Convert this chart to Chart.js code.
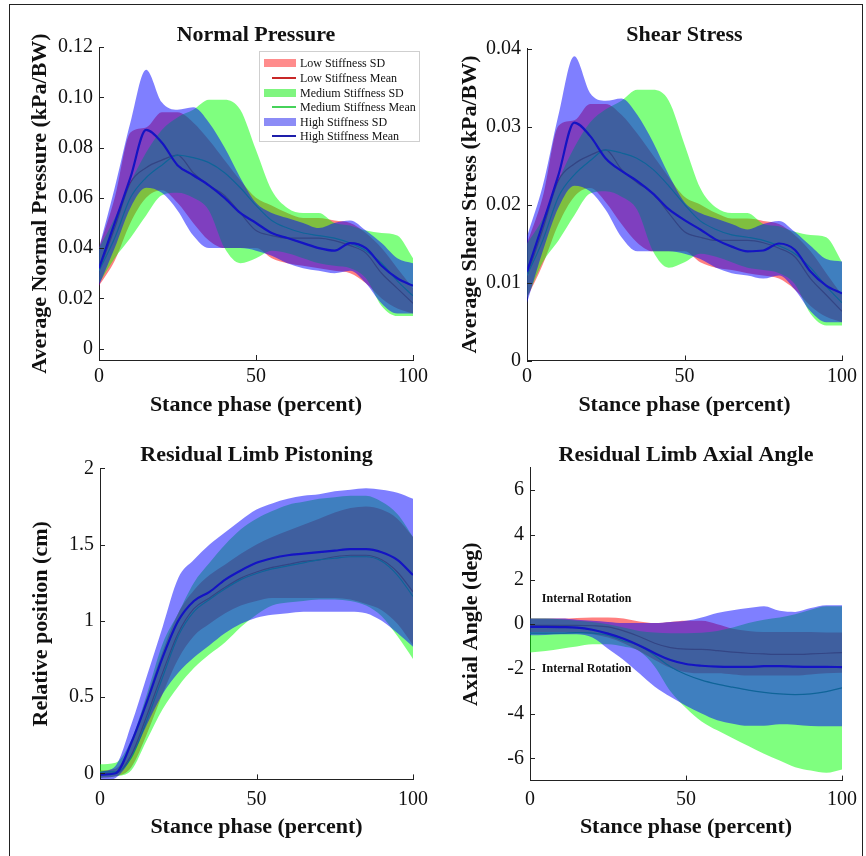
<!DOCTYPE html>
<html lang="en">
<head>
<meta charset="utf-8">
<title>Stiffness comparison</title>
<script src="https://cdn.jsdelivr.net/npm/chart.js@4.4.1/dist/chart.umd.min.js"></script>
<style>
  html, body { margin: 0; padding: 0; background: #fff; overflow: hidden; }
  body { width: 866px; height: 856px; position: relative; }
  .cadre { position: absolute; left: 9px; top: 4px; width: 854px; height: 870px; border: 1px solid #222; box-sizing: border-box; }
  canvas { position: absolute; }
  #legende { position: absolute; left: 259px; top: 51px; width: 161px; height: 91px; box-sizing: border-box;
    background: #fff; border: 1px solid #cfcfcf; font: 12px 'Liberation Serif', 'Times New Roman', serif; color: #111; z-index: 5; }
  .entree { position: absolute; left: 0; height: 14px; line-height: 14px; white-space: nowrap; }
  .entree span { position: absolute; left: 40px; top: 0; }
  .carre { position: absolute; left: 4px; top: 3px; width: 32px; height: 8px; }
  .trait { position: absolute; left: 12px; top: 6px; width: 24px; height: 2px; }
</style>
</head>
<body>
<div class="cadre"></div>
<canvas id="pression"></canvas>
<canvas id="cisaillement"></canvas>
<canvas id="pistonnement"></canvas>
<canvas id="angle"></canvas>

<div id="legende">
  <div class="entree" style="top:4px"><div class="carre" style="background:rgba(255,0,0,0.45)"></div><span>Low Stiffness SD</span></div>
  <div class="entree" style="top:19px"><div class="trait" style="background:rgb(200,40,40)"></div><span>Low Stiffness Mean</span></div>
  <div class="entree" style="top:34px"><div class="carre" style="background:rgba(0,235,0,0.5)"></div><span>Medium Stiffness SD</span></div>
  <div class="entree" style="top:48px"><div class="trait" style="background:rgb(70,210,90)"></div><span>Medium Stiffness Mean</span></div>
  <div class="entree" style="top:63px"><div class="carre" style="background:rgba(0,0,235,0.45)"></div><span>High Stiffness SD</span></div>
  <div class="entree" style="top:77px"><div class="trait" style="background:rgb(30,30,170)"></div><span>High Stiffness Mean</span></div>
</div>

<script>
// abscisse commune (% de la phase d'appui)
const stance = [0, 5, 10, 15, 20, 25, 30, 35, 40, 45, 50, 55, 60, 65, 70, 75, 80, 85, 90, 95, 100];
const stanceTicks = [0, 50, 100];

// pression normale
const pressureTicks = [0, 0.02, 0.04, 0.06, 0.08, 0.10, 0.12];
const pressureLabels = ['0', '0.02', '0.04', '0.06', '0.08', '0.10', '0.12'];
const lowMeanPressure = [0.031, 0.048, 0.066, 0.072, 0.075, 0.077, 0.070, 0.065, 0.061, 0.054, 0.047, 0.045, 0.044, 0.044, 0.044, 0.043, 0.041, 0.038, 0.030, 0.024, 0.018];
const lowUpperPressure = [0.040, 0.060, 0.086, 0.088, 0.094, 0.094, 0.090, 0.083, 0.075, 0.067, 0.060, 0.057, 0.054, 0.052, 0.052, 0.051, 0.050, 0.046, 0.040, 0.032, 0.024];
const lowLowerPressure = [0.025, 0.035, 0.050, 0.060, 0.063, 0.058, 0.050, 0.043, 0.040, 0.040, 0.040, 0.036, 0.034, 0.033, 0.032, 0.031, 0.030, 0.026, 0.020, 0.016, 0.014];
const medMeanPressure = [0.031, 0.044, 0.060, 0.068, 0.073, 0.077, 0.076, 0.074, 0.070, 0.064, 0.057, 0.051, 0.048, 0.046, 0.045, 0.044, 0.042, 0.039, 0.034, 0.027, 0.021];
const medUpperPressure = [0.040, 0.052, 0.066, 0.078, 0.087, 0.092, 0.095, 0.099, 0.099, 0.095, 0.079, 0.063, 0.056, 0.054, 0.054, 0.050, 0.049, 0.047, 0.046, 0.045, 0.036];
const medLowerPressure = [0.026, 0.036, 0.044, 0.053, 0.061, 0.062, 0.060, 0.055, 0.040, 0.034, 0.036, 0.039, 0.038, 0.036, 0.034, 0.033, 0.032, 0.028, 0.017, 0.013, 0.013];
const highMeanPressure = [0.032, 0.050, 0.068, 0.087, 0.082, 0.073, 0.069, 0.065, 0.060, 0.054, 0.050, 0.046, 0.044, 0.042, 0.040, 0.039, 0.042, 0.040, 0.033, 0.028, 0.025];
const highUpperPressure = [0.040, 0.064, 0.090, 0.111, 0.098, 0.095, 0.096, 0.090, 0.080, 0.068, 0.058, 0.054, 0.052, 0.050, 0.048, 0.050, 0.051, 0.047, 0.042, 0.036, 0.034];
const highLowerPressure = [0.025, 0.040, 0.056, 0.064, 0.062, 0.055, 0.045, 0.040, 0.040, 0.040, 0.039, 0.037, 0.034, 0.032, 0.031, 0.030, 0.031, 0.026, 0.018, 0.014, 0.014];

// contrainte de cisaillement
const shearTicks = [0, 0.01, 0.02, 0.03, 0.04];
const shearLabels = ['0', '0.01', '0.02', '0.03', '0.04'];
const lowMeanShear = [0.0109, 0.0168, 0.0231, 0.0252, 0.0263, 0.0270, 0.0245, 0.0228, 0.0214, 0.0189, 0.0165, 0.0158, 0.0154, 0.0154, 0.0154, 0.0151, 0.0144, 0.0133, 0.0105, 0.0084, 0.0063];
const lowUpperShear = [0.0150, 0.0210, 0.0301, 0.0308, 0.0329, 0.0329, 0.0315, 0.0291, 0.0263, 0.0235, 0.0210, 0.0200, 0.0189, 0.0182, 0.0182, 0.0179, 0.0175, 0.0161, 0.0140, 0.0112, 0.0084];
const lowLowerShear = [0.0080, 0.0123, 0.0175, 0.0210, 0.0221, 0.0203, 0.0175, 0.0151, 0.0140, 0.0140, 0.0140, 0.0126, 0.0119, 0.0116, 0.0112, 0.0109, 0.0105, 0.0091, 0.0070, 0.0056, 0.0049];
const medMeanShear = [0.0109, 0.0154, 0.0210, 0.0238, 0.0256, 0.0270, 0.0266, 0.0259, 0.0245, 0.0224, 0.0200, 0.0179, 0.0168, 0.0161, 0.0158, 0.0154, 0.0147, 0.0137, 0.0119, 0.0095, 0.0074];
const medUpperShear = [0.0150, 0.0182, 0.0231, 0.0273, 0.0305, 0.0322, 0.0333, 0.0347, 0.0347, 0.0333, 0.0277, 0.0221, 0.0196, 0.0189, 0.0189, 0.0175, 0.0172, 0.0165, 0.0161, 0.0158, 0.0126];
const medLowerShear = [0.0080, 0.0126, 0.0154, 0.0186, 0.0214, 0.0217, 0.0210, 0.0193, 0.0140, 0.0119, 0.0126, 0.0137, 0.0133, 0.0126, 0.0119, 0.0116, 0.0112, 0.0098, 0.0060, 0.0045, 0.0045];
const highMeanShear = [0.0114, 0.0175, 0.0238, 0.0305, 0.0288, 0.0259, 0.0243, 0.0230, 0.0214, 0.0194, 0.0180, 0.0168, 0.0155, 0.0146, 0.0140, 0.0141, 0.0150, 0.0142, 0.0114, 0.0096, 0.0086];
const highUpperShear = [0.0159, 0.0224, 0.0315, 0.0390, 0.0343, 0.0333, 0.0336, 0.0315, 0.0280, 0.0238, 0.0203, 0.0189, 0.0182, 0.0175, 0.0168, 0.0175, 0.0179, 0.0165, 0.0147, 0.0130, 0.0127];
const highLowerShear = [0.0074, 0.0140, 0.0196, 0.0224, 0.0217, 0.0193, 0.0158, 0.0140, 0.0140, 0.0140, 0.0137, 0.0130, 0.0119, 0.0112, 0.0109, 0.0105, 0.0109, 0.0091, 0.0063, 0.0049, 0.0049];

// pistonnement du moignon
const pistonTicks = [0, 0.5, 1, 1.5, 2];
const pistonLabels = ['0', '0.5', '1', '1.5', '2'];
const lowMeanPiston = [0.00, 0.00, 0.12, 0.38, 0.66, 0.92, 1.08, 1.15, 1.22, 1.28, 1.32, 1.35, 1.37, 1.39, 1.40, 1.42, 1.43, 1.43, 1.40, 1.32, 1.19];
const lowUpperPiston = [0.02, 0.03, 0.20, 0.50, 0.80, 1.05, 1.20, 1.30, 1.37, 1.44, 1.50, 1.55, 1.59, 1.63, 1.67, 1.71, 1.74, 1.75, 1.73, 1.67, 1.55];
const lowLowerPiston = [-0.03, -0.02, 0.04, 0.26, 0.52, 0.75, 0.90, 0.98, 1.05, 1.10, 1.13, 1.15, 1.15, 1.15, 1.15, 1.15, 1.14, 1.11, 1.07, 0.98, 0.84];
const medMeanPiston = [0.01, 0.01, 0.10, 0.35, 0.63, 0.90, 1.06, 1.14, 1.21, 1.27, 1.31, 1.34, 1.36, 1.38, 1.40, 1.41, 1.42, 1.42, 1.39, 1.30, 1.16];
const medUpperPiston = [0.06, 0.07, 0.22, 0.52, 0.85, 1.05, 1.25, 1.38, 1.50, 1.60, 1.67, 1.72, 1.76, 1.78, 1.80, 1.81, 1.82, 1.82, 1.78, 1.70, 1.55];
const medLowerPiston = [-0.03, -0.02, 0.02, 0.22, 0.42, 0.57, 0.69, 0.78, 0.86, 0.96, 1.04, 1.10, 1.12, 1.13, 1.14, 1.14, 1.13, 1.10, 1.03, 0.90, 0.75];
const highMeanPiston = [-0.01, 0.00, 0.20, 0.47, 0.76, 1.00, 1.13, 1.19, 1.27, 1.33, 1.38, 1.41, 1.43, 1.44, 1.45, 1.46, 1.47, 1.47, 1.45, 1.40, 1.30];
const highUpperPiston = [0.01, 0.05, 0.32, 0.64, 0.96, 1.28, 1.40, 1.50, 1.58, 1.66, 1.73, 1.77, 1.80, 1.82, 1.83, 1.85, 1.86, 1.87, 1.86, 1.84, 1.80];
const highLowerPiston = [-0.05, -0.03, 0.10, 0.32, 0.52, 0.66, 0.76, 0.84, 0.92, 0.98, 1.02, 1.04, 1.05, 1.06, 1.06, 1.06, 1.06, 1.05, 1.00, 0.92, 0.83];

// angle axial
const angleTicks = [-6, -4, -2, 0, 2, 4, 6];
const angleLabels = ['-6', '-4', '-2', '0', '2', '4', '6'];
const lowMeanAngle = [-0.05, -0.05, -0.05, -0.05, -0.07, -0.12, -0.30, -0.55, -0.85, -1.05, -1.12, -1.13, -1.18, -1.25, -1.30, -1.33, -1.35, -1.35, -1.33, -1.30, -1.27];
const lowUpperAngle = [0.25, 0.25, 0.25, 0.28, 0.30, 0.30, 0.25, 0.12, 0.05, 0.10, 0.15, 0.15, 0.00, -0.20, -0.30, -0.35, -0.35, -0.35, -0.35, -0.37, -0.37];
const lowLowerAngle = [-0.35, -0.35, -0.35, -0.38, -0.45, -0.60, -0.85, -1.20, -1.60, -1.95, -2.15, -2.20, -2.20, -2.25, -2.30, -2.30, -2.30, -2.30, -2.25, -2.20, -2.17];
const medMeanAngle = [-0.40, -0.40, -0.40, -0.38, -0.40, -0.50, -0.75, -0.95, -1.40, -1.90, -2.25, -2.50, -2.68, -2.82, -2.95, -3.05, -3.12, -3.15, -3.12, -3.02, -2.85];
const medUpperAngle = [0.25, 0.25, 0.22, 0.15, 0.10, 0.00, -0.15, -0.30, -0.37, -0.40, -0.40, -0.38, -0.30, -0.15, 0.05, 0.20, 0.30, 0.45, 0.65, 0.80, 0.80];
const medLowerAngle = [-1.27, -1.20, -1.10, -1.00, -0.90, -0.90, -1.00, -1.20, -1.90, -3.00, -3.75, -4.35, -4.75, -5.10, -5.45, -5.80, -6.10, -6.40, -6.55, -6.65, -6.50];
const highMeanAngle = [-0.12, -0.12, -0.13, -0.15, -0.25, -0.42, -0.65, -0.95, -1.30, -1.60, -1.78, -1.86, -1.90, -1.91, -1.91, -1.88, -1.88, -1.90, -1.91, -1.91, -1.92];
const highUpperAngle = [0.25, 0.25, 0.25, 0.20, 0.15, 0.10, 0.05, 0.05, 0.05, 0.10, 0.15, 0.30, 0.50, 0.62, 0.72, 0.80, 0.60, 0.55, 0.72, 0.85, 0.85];
const highLowerAngle = [-0.50, -0.48, -0.45, -0.45, -0.60, -1.10, -1.60, -2.20, -2.80, -3.25, -3.65, -4.00, -4.30, -4.45, -4.55, -4.55, -4.48, -4.50, -4.56, -4.57, -4.57];

const police = "'Liberation Serif', 'Times New Roman', serif";
const demiLigne = 22 * 1.2 / 2;
const demiChiffre = 20 / 2;

const points = serie => serie.map((v, i) => ({ x: stance[i], y: v }));

// bande SD (remplie entre haut et bas) + courbe moyenne ; ordre = empilement façon matlab
function groupe(haut, bas, moyenne, couleurBande, couleurLigne, epaisseur, rang) {
  return [
    { data: points(haut), fill: '+1', backgroundColor: couleurBande, borderWidth: 0, order: rang + 1 },
    { data: points(bas), fill: false, borderWidth: 0, order: rang + 1 },
    { data: points(moyenne), fill: false, borderColor: couleurLigne, borderWidth: epaisseur, order: rang }
  ];
}

// petits traits de graduation vers l'intérieur
const traitsInternes = {
  id: 'traitsInternes',
  afterDraw(chart) {
    const { ctx, chartArea: a, scales: { x, y } } = chart;
    ctx.save();
    ctx.strokeStyle = '#222';
    ctx.lineWidth = 1;
    ctx.beginPath();
    x.ticks.forEach(t => {
      const px = Math.round(x.getPixelForValue(t.value)) + 0.5;
      ctx.moveTo(px, a.bottom);
      ctx.lineTo(px, a.bottom - 5);
    });
    y.ticks.forEach(t => {
      const py = Math.round(y.getPixelForValue(t.value)) + 0.5;
      ctx.moveTo(a.left, py);
      ctx.lineTo(a.left + 5, py);
    });
    ctx.stroke();
    ctx.restore();
  }
};

// notes "Internal Rotation" du graphe d'angle
const notesRotation = {
  id: 'notesRotation',
  afterDatasetsDraw(chart) {
    const { ctx, scales: { x, y } } = chart;
    ctx.save();
    ctx.font = 'bold 12px ' + police;
    ctx.fillStyle = '#111';
    ctx.textBaseline = 'middle';
    ctx.fillText('Internal Rotation', x.getPixelForValue(3.8), y.getPixelForValue(1.15));
    ctx.fillText('Internal Rotation', x.getPixelForValue(3.8), y.getPixelForValue(-2.0));
    ctx.restore();
  }
};

function panneau(id, cadre, zone, titre, yTitre, yMin, yMax, yTicks, yLabels, series, extras) {
  const el = document.getElementById(id);
  el.width = cadre.w;
  el.height = cadre.h;
  el.style.left = cadre.x + 'px';
  el.style.top = cadre.y + 'px';

  const axe = {
    grid: { drawOnChartArea: false, drawTicks: false },
    border: { color: '#222', width: 1 }
  };

  new Chart(el, {
    type: 'line',
    data: { datasets: series },
    options: {
      responsive: false,
      animation: false,
      events: [],
      layout: { padding: { left: 0, top: 0, bottom: 0, right: cadre.x + cadre.w - zone.r } },
      elements: { line: { cubicInterpolationMode: 'monotone' }, point: { radius: 0 } },
      plugins: {
        legend: { display: false },
        tooltip: { enabled: false },
        title: {
          display: true,
          text: titre,
          fullSize: false,
          color: '#111',
          font: { family: police, size: 22, weight: 'bold' },
          padding: { top: zone.titreY - cadre.y - demiLigne, bottom: zone.t - zone.titreY - demiLigne }
        }
      },
      scales: {
        x: {
          ...axe,
          type: 'linear',
          min: 0,
          max: 100,
          afterFit: s => { s.height = cadre.y + cadre.h - zone.b; },
          afterBuildTicks: s => { s.ticks = stanceTicks.map(v => ({ value: v })); },
          ticks: { color: '#111', font: { family: police, size: 20, lineHeight: 1 },
            padding: zone.xTickY - zone.b - demiChiffre, maxRotation: 0, autoSkip: false,
            callback: v => String(v) },
          title: { display: true, text: 'Stance phase (percent)', color: '#111',
            font: { family: police, size: 22, weight: 'bold' },
            padding: { top: 0, bottom: cadre.y + cadre.h - zone.xTitreY - demiLigne } }
        },
        y: {
          ...axe,
          type: 'linear',
          min: yMin,
          max: yMax,
          afterFit: s => { s.width = zone.l - cadre.x; },
          afterBuildTicks: s => { s.ticks = yTicks.map(v => ({ value: v })); },
          ticks: { color: '#111', font: { family: police, size: 20 }, padding: 6, autoSkip: false,
            callback: (v, i) => yLabels[i] },
          title: { display: true, text: yTitre, color: '#111',
            font: { family: police, size: 22, weight: 'bold' },
            padding: { top: zone.yTitreX - cadre.x - demiLigne, bottom: 0 } }
        }
      }
    },
    plugins: [traitsInternes].concat(extras || [])
  });
}

const rouge = 'rgba(255,0,0,0.5)', vert = 'rgba(0,255,0,0.5)', bleu = 'rgba(0,0,255,0.5)';
const ligneRouge = 'rgb(205,20,20)', ligneVert = 'rgb(30,200,50)', ligneBleu = 'rgb(20,20,195)';

function trois(lowU, lowL, lowM, medU, medL, medM, highU, highL, highM) {
  return [].concat(
    groupe(lowU, lowL, lowM, rouge, ligneRouge, 1.2, 5),
    groupe(medU, medL, medM, vert, ligneVert, 1.2, 3),
    groupe(highU, highL, highM, bleu, ligneBleu, 2.2, 1)
  );
}

// canevas un peu plus larges que la zone pour laisser la place au label "100"
panneau('pression', { x: 0, y: 0, w: 455, h: 430 },
  { l: 99, r: 413, t: 47, b: 360, titreY: 35, xTickY: 377, xTitreY: 405, yTitreX: 40 },
  'Normal Pressure', 'Average Normal Pressure (kPa/BW)', -0.0045, 0.12, pressureTicks, pressureLabels,
  trois(lowUpperPressure, lowLowerPressure, lowMeanPressure, medUpperPressure, medLowerPressure, medMeanPressure,
    highUpperPressure, highLowerPressure, highMeanPressure));

panneau('cisaillement', { x: 433, y: 0, w: 452, h: 430 },
  { l: 527, r: 842, t: 48.5, b: 360.5, titreY: 35, xTickY: 377, xTitreY: 405, yTitreX: 470 },
  'Shear Stress', 'Average Shear Stress (kPa/BW)', 0, 0.04, shearTicks, shearLabels,
  trois(lowUpperShear, lowLowerShear, lowMeanShear, medUpperShear, medLowerShear, medMeanShear,
    highUpperShear, highLowerShear, highMeanShear));

panneau('pistonnement', { x: 0, y: 430, w: 455, h: 426 },
  { l: 100, r: 413, t: 468.3, b: 779.4, titreY: 455, xTickY: 800, xTitreY: 827, yTitreX: 41 },
  'Residual Limb Pistoning', 'Relative position (cm)', -0.04, 2, pistonTicks, pistonLabels,
  trois(lowUpperPiston, lowLowerPiston, lowMeanPiston, medUpperPiston, medLowerPiston, medMeanPiston,
    highUpperPiston, highLowerPiston, highMeanPiston));

panneau('angle', { x: 433, y: 430, w: 452, h: 426 },
  { l: 530, r: 842, t: 467.8, b: 780.6, titreY: 455, xTickY: 800, xTitreY: 827, yTitreX: 471.7 },
  'Residual Limb Axial Angle', 'Axial Angle (deg)', -7, 7, angleTicks, angleLabels,
  trois(lowUpperAngle, lowLowerAngle, lowMeanAngle, medUpperAngle, medLowerAngle, medMeanAngle,
    highUpperAngle, highLowerAngle, highMeanAngle),
  [notesRotation]);
</script>
</body>
</html>
